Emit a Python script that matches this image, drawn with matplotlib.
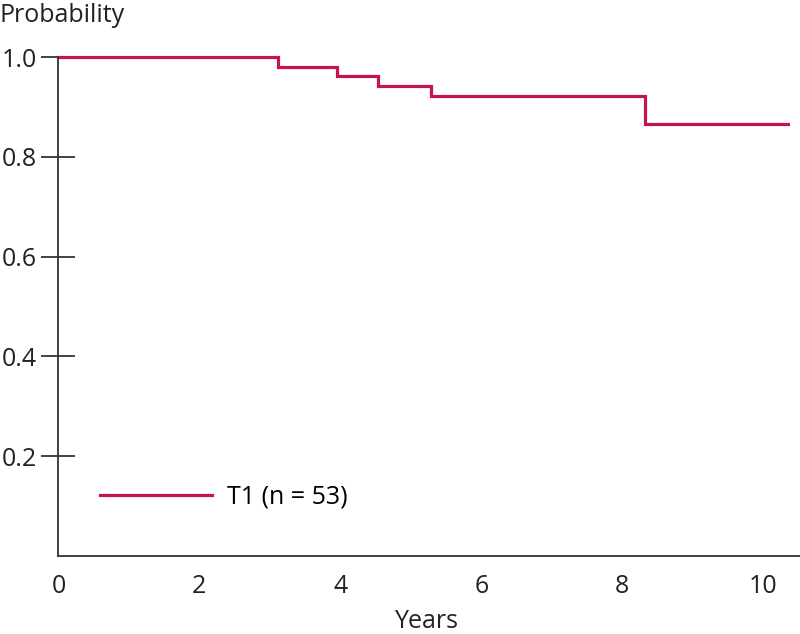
import matplotlib.pyplot as plt

# Kaplan-Meier style step data
years = [0, 3.11, 3.95, 4.53, 5.29, 8.32, 10.35]
prob = [1.0, 0.981, 0.962, 0.943, 0.921, 0.865, 0.865]
y_ticks = [0.2, 0.4, 0.6, 0.8, 1.0]
x_ticks = [0, 2, 4, 6, 8, 10]

plt.rcParams['font.family'] = ['Open Sans', 'DejaVu Sans']
red = '#c4164c'
dark = '#333333'
fs = 18

fig = plt.figure(figsize=(8, 6.34), dpi=100)
ax = fig.add_axes([0.073, 0.123, 0.927, 0.787])

ax.step(years, prob, where='post', color=red, lw=2.3, label='T1 (n = 53)',
        solid_joinstyle='miter', clip_on=False)

ax.set_xlim(0, 10.52)
ax.set_ylim(0, 1.0)
ax.set_xticks(x_ticks)
ax.set_xticklabels([str(v) for v in x_ticks])
ax.set_yticks(y_ticks)
ax.set_yticklabels([f'{v:.1f}' for v in y_ticks])

for s in ['top', 'right']:
    ax.spines[s].set_visible(False)
for s in ['left', 'bottom']:
    ax.spines[s].set_color(dark)
    ax.spines[s].set_linewidth(1.3)

ax.tick_params(axis='y', direction='inout', length=25, width=1.3, color=dark,
               labelsize=fs, pad=3, labelcolor='#222222')
ax.tick_params(axis='x', length=0, labelsize=fs, pad=13, labelcolor='#222222')

fig.text(0.0, 0.976, 'Probability', fontsize=fs, ha='left', va='center', color='#222222')
fig.text(0.534, 0.019, 'Years', fontsize=fs, ha='center', va='center', color='#222222')

ax.legend(loc='center left', bbox_to_anchor=(0.056, 0.118), frameon=False,
          fontsize=fs, handlelength=4.48, handletextpad=0.62,
          borderpad=0, borderaxespad=0)

plt.savefig('out.png', dpi=100)
